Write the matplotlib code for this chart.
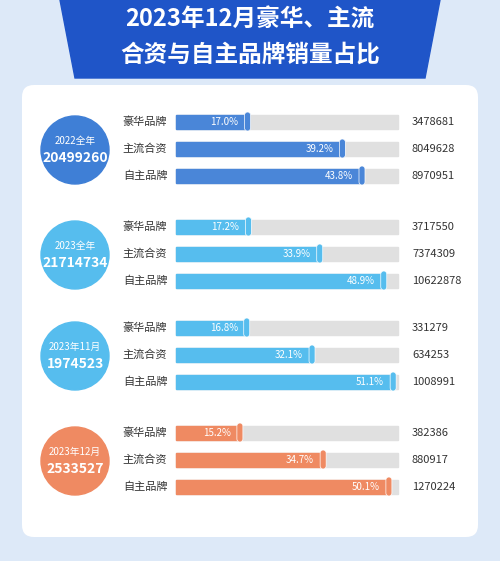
import matplotlib.pyplot as plt
from matplotlib.patches import Circle, FancyBboxPatch, Polygon

plt.rcParams['font.family'] = ['Noto Sans CJK SC', 'DejaVu Sans']

brands = ['豪华品牌', '主流合资', '自主品牌']
periods = ['2022全年', '2023全年', '2023年11月', '2023年12月']
totals = ['20499260', '21714734', '1974523', '2533527']
shares = [[17.0, 39.2, 43.8], [17.2, 33.9, 48.9], [16.8, 32.1, 51.1], [15.2, 34.7, 50.1]]
volumes = [[3478681, 8049628, 8970951], [3717550, 7374309, 10622878],
           [331279, 634253, 1008991], [382386, 880917, 1270224]]
colors = ['#4a86d8', '#56bdee', '#56bdee', '#ef8a62']
circle_colors = ['#3f7fd6', '#56bdee', '#56bdee', '#ef8a62']
centers_y = [150, 255, 356, 461]

W, H = 500, 561
fig = plt.figure(figsize=(W / 100, H / 100), dpi=100)
bg = fig.add_axes([0, 0, 1, 1])
bg.set_xlim(0, W)
bg.set_ylim(H, 0)
bg.axis('off')
bg.add_patch(plt.Rectangle((0, 0), W, H, color='#dde9f8'))
bg.add_patch(FancyBboxPatch((22, 85), 456, 452, boxstyle='round,pad=0,rounding_size=12',
                            fc='white', ec='none'))
bg.add_patch(Polygon([[60, 0], [440, 0], [425, 78], [75, 78]], color='#1f55c8'))
bg.text(250, 20, '2023年12月豪华、主流', ha='center', va='center', fontsize=17,
        fontweight='bold', color='white')
bg.text(250, 55, '合资与自主品牌销量占比', ha='center', va='center', fontsize=17,
        fontweight='bold', color='white')

track = 52.0
x0, x1 = 176, 398
for g in range(4):
    cy = centers_y[g]
    bg.add_patch(Circle((75, cy), 34, color=circle_colors[g]))
    bg.text(75, cy - 9, periods[g], ha='center', va='center', fontsize=7, color='white')
    bg.text(75, cy + 8, totals[g], ha='center', va='center', fontsize=10, color='white',
            fontweight='bold', fontstyle='italic')
    for i in range(3):
        y = cy - 28 + i * 27
        bg.text(145, y, brands[i], ha='center', va='center', fontsize=8, color='#333333')
        bg.add_patch(plt.Rectangle((x0, y - 7), x1 - x0, 14, color='#e0e0e0'))
        xe = x0 + (x1 - x0) * shares[g][i] / track
        bg.add_patch(plt.Rectangle((x0, y - 7), xe - x0, 14, color=colors[g]))
        bg.add_patch(FancyBboxPatch((xe - 4, y - 10), 6, 19, boxstyle='round,pad=0,rounding_size=3',
                                    fc=colors[g], ec='white', lw=0.5))
        bg.text(xe - 10, y, f'{shares[g][i]:.1f}%', ha='right', va='center', fontsize=7,
                color='white')
        bg.text(412, y, str(volumes[g][i]), ha='left', va='center', fontsize=8, color='#333333')

fig.savefig('out.png', dpi=100)
